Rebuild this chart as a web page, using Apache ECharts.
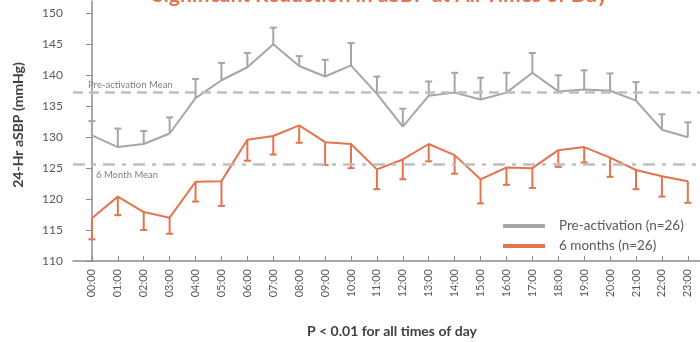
<!DOCTYPE html>
<html><head><meta charset="utf-8">
<script src="https://cdn.jsdelivr.net/npm/echarts@6/dist/echarts.min.js"></script>
<style>html,body{margin:0;padding:0;background:#fff}#c{width:700px;height:342px}</style>
</head><body><div id="c"></div>
<script>
const hours = ['00:00','01:00','02:00','03:00','04:00','05:00','06:00','07:00','08:00','09:00','10:00','11:00','12:00','13:00','14:00','15:00','16:00','17:00','18:00','19:00','20:00','21:00','22:00','23:00'];
const preMean = [130.3,128.4,128.9,130.6,136.3,139.2,141.3,145.0,141.5,139.8,141.6,137.0,131.7,136.7,137.2,136.1,137.2,140.4,137.4,137.7,137.5,135.9,131.2,130.0];
const preUpper = [132.6,131.4,131.0,133.2,139.4,142.0,143.6,147.7,143.1,142.5,145.2,139.8,134.6,139.0,140.4,139.6,140.4,143.6,140.0,140.8,140.3,138.9,133.7,132.4];
const sixMean = [116.9,120.4,117.9,117.0,122.8,122.9,129.6,130.2,131.9,129.2,128.9,124.8,126.4,128.9,127.1,123.2,125.1,125.0,127.9,128.4,126.7,124.7,123.7,122.9];
const sixLower = [113.5,117.4,115.0,114.4,119.6,118.9,126.2,127.2,129.1,125.5,125.0,121.6,123.2,126.1,124.1,119.3,122.3,121.8,125.2,125.9,123.6,121.6,120.4,119.4];
const preOverallMean = 137.2;
const sixOverallMean = 125.6;
const yTicks = [110,115,120,125,130,135,140,145,150];
const xTicks = hours.map((h,i)=>i);

const GRAY = '#A6A6A6', ORANGE = '#E5734D', MEANC = '#BFBFBF';
const FONT = 'Lato';

function errBar(color){
  return function(params, api){
    const x = api.value(0);
    const p0 = api.coord([x, api.value(1)]);
    const p1 = api.coord([x, api.value(2)]);
    const st = {stroke: color, lineWidth: 2};
    return {type:'group', children:[
      {type:'line', shape:{x1:p0[0],y1:p0[1],x2:p1[0],y2:p1[1]}, style:st},
      {type:'line', shape:{x1:p1[0]-3.5,y1:p1[1],x2:p1[0]+3.5,y2:p1[1]}, style:st}
    ]};
  };
}

const chart = echarts.init(document.getElementById('c'));
chart.setOption({
  animation:false,
  textStyle:{fontFamily:FONT},
  title:[
    {text:'Significant Reduction in aSBP at All Times of Day', left:147, top:-20,
     textStyle:{color:ORANGE, fontSize:21, fontWeight:'bold', fontFamily:FONT}},
    {text:'P < 0.01 for all times of day', left:302, top:319,
     textStyle:{color:'#404040', fontSize:14, fontWeight:'bold', fontFamily:FONT}}
  ],
  grid:{left:73, right:0, top:1, bottom:81},
  legend:{
    data:['Pre-activation (n=26)','6 months (n=26)'],
    orient:'vertical', left:498, top:213, itemGap:4,
    icon:'rect', itemWidth:42, itemHeight:4,
    textStyle:{fontSize:13.5, color:'#595959', lineHeight:16, padding:[0,0,0,9], fontFamily:FONT}
  },
  xAxis:{
    type:'value', min:-0.73, max:23.47,
    axisLine:{show:true, lineStyle:{color:'#8C8C8C', width:1.5}},
    axisTick:{show:true, inside:true, length:5, customValues:xTicks, lineStyle:{color:'#8C8C8C'}},
    axisLabel:{customValues:xTicks, formatter:(v)=>hours[Math.round(v)], rotate:90, fontSize:11, color:'#595959', margin:8},
    splitLine:{show:false}
  },
  yAxis:{
    type:'value', min:110, max:152,
    name:'24-Hr aSBP (mmHg)', nameLocation:'middle', nameGap:48,
    nameTextStyle:{fontSize:14, fontWeight:'bold', color:'#404040', fontFamily:FONT, padding:[0,0,0,12]},
    axisLine:{show:true, lineStyle:{color:'#8C8C8C', width:1.5}},
    axisTick:{show:true, length:6, customValues:yTicks, lineStyle:{color:'#8C8C8C'}},
    axisLabel:{customValues:yTicks, fontSize:12, color:'#595959', margin:10},
    splitLine:{show:false}
  },
  series:[
    {name:'Pre-activation (n=26)', type:'line', symbol:'none', color:GRAY,
     lineStyle:{width:2, color:GRAY}, data:preMean.map((v,i)=>[i,v]), z:3,
     markLine:{silent:true, symbol:'none',
       lineStyle:{color:MEANC, width:2.5, type:[10,6]},
       label:{formatter:'Pre-activation Mean', position:'insideStartTop', color:'#7F7F7F', fontSize:9.5, distance:[15,3], fontFamily:FONT},
       data:[{yAxis:preOverallMean}]}},
    {name:'6 months (n=26)', type:'line', symbol:'none', color:ORANGE,
     lineStyle:{width:2, color:ORANGE}, data:sixMean.map((v,i)=>[i,v]), z:3,
     markLine:{silent:true, symbol:'none',
       lineStyle:{color:MEANC, width:2.5, type:[12,7,4,7]},
       label:{formatter:'6 Month Mean', position:'insideStartBottom', color:'#7F7F7F', fontSize:9.5, distance:[23,6], fontFamily:FONT},
       data:[{yAxis:sixOverallMean}]}},
    {type:'custom', renderItem:errBar(GRAY), data:preMean.map((v,i)=>[i,v,preUpper[i]]), z:3, silent:true},
    {type:'custom', renderItem:errBar(ORANGE), data:sixMean.map((v,i)=>[i,v,sixLower[i]]), z:3, silent:true}
  ]
});
</script></body></html>
